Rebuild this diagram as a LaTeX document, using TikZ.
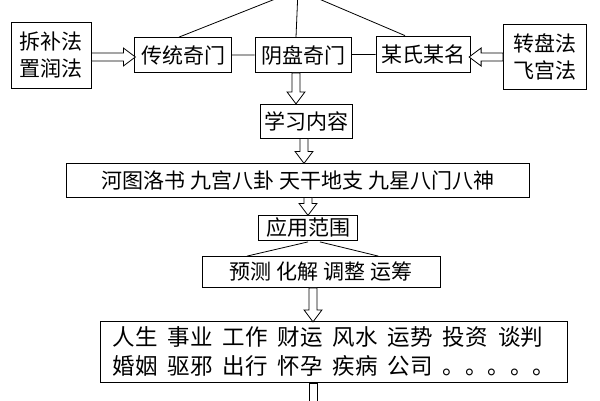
\documentclass[tikz,border=0pt]{standalone}
\usepackage{fontspec}
\newfontfamily\cjk{Noto Sans CJK SC}
\usetikzlibrary{calc}

% hollow block arrow: start, length, angle
\newcommand{\hollowarrow}[3]{%
    \begin{scope}[shift={#1}, rotate=#3]
        \draw[fill=white] (0, -4) -- (#2-12, -4) -- (#2-12, -9) -- (#2, 0)
            -- (#2-12, 9) -- (#2-12, 4) -- (0, 4) -- cycle;
    \end{scope}}

\begin{document}
\begin{tikzpicture}
    [x=1pt, y=-1pt, line width=.8pt,
     box/.style={draw, inner sep=0pt, font=\cjk\fontsize{21}{27}\selectfont},
     wide/.style={box, font=\cjk\fontsize{22.5}{29}\selectfont},
    ]
    \useasboundingbox (0, 0) rectangle (600, 400);

    % top row
    \node[box, minimum width=80, minimum height=66, align=center]
        (chaibu) at (51, 55) {拆补法\\置润法};
    \node[box, minimum width=97, minimum height=35] (chuantong) at (183, 55) {传统奇门};
    \node[box, minimum width=96, minimum height=35] (yinpan) at (303, 55) {阴盘奇门};
    \node[box, minimum width=94, minimum height=36] (moushi) at (423, 54) {某氏某名};
    \node[box, minimum width=83, minimum height=65, align=center]
        (zhuanpan) at (545, 57) {转盘法\\飞宫法};

    \coordinate (apex) at (298, -10);
    \draw (chuantong.north) ++(-4, 0) -- (apex);
    \draw (yinpan.north) ++(-7, 0) -- (apex);
    \draw (moushi.north) ++(-18, 0) -- (apex);
    \draw (chuantong) -- (yinpan) -- (moushi);

    \hollowarrow{(chaibu.east |- 0, 57)}{44}{0}
    \hollowarrow{(zhuanpan.west |- 0, 57)}{34}{180}
    \hollowarrow{(yinpan.south -| 296, 0)}{31}{-90}

    % learning
    \node[box, minimum width=92, minimum height=34] (xuexi) at (306, 121) {学习内容};
    \node[box, minimum width=463, minimum height=34] (hetu) at (298, 180)
        {河图洛书\ 九宫八卦\ 天干地支\ 九星八门八神};
    \hollowarrow{(xuexi.south -| 304, 0)}{25}{-90}

    % application
    \node[box, minimum width=99, minimum height=25] (yingyong) at (308, 228) {应用范围};
    \hollowarrow{(hetu.south -| 308, 0)}{18}{-90}
    \node[box, minimum width=238, minimum height=31] (yuce) at (321, 272)
        {预测\ 化解\ 调整\ 运筹};
    \draw (yingyong.south) ++(0, 1) -- ($(yuce.north west)!.19!(yuce.north east)$);
    \draw (yingyong.south) ++(12, 1) -- ($(yuce.north west)!.74!(yuce.north east)$);
    \hollowarrow{(yuce.south -| 313, 0)}{34}{-90}

    \node[wide, minimum width=467, minimum height=61, align=left] (fanwei) at (334, 352)
        {人生\ \ 事业\ \ 工作\ \ 财运\ \ 风水\ \ 运势\ \ 投资\ \ 谈判\\
         婚姻\ \ 驱邪\ \ 出行\ \ 怀孕\ \ 疾病\ \ 公司\ \ 。。。。。};
    \coordinate (next) at (313, 410);
    \draw[fill=white] (fanwei.south -| 309, 0) rectangle (317, 410);
\end{tikzpicture}
\end{document}
